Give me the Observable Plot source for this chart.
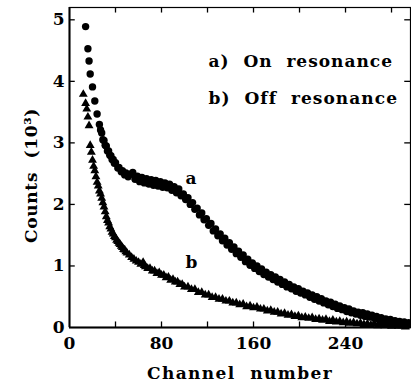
<!DOCTYPE html>
<html><head><meta charset="utf-8">
<script src="https://cdn.jsdelivr.net/npm/d3@7"></script>
<script src="https://cdn.jsdelivr.net/npm/@observablehq/plot@0.6"></script>
<style>body{margin:0;background:#fff} svg{display:block}</style>
</head><body><div id="chart"></div>
<script>
// a) On resonance (circles)
const chA = [14,16,17,18,20,22,24,26,27,28,29,30,31,32,33,34,35,36,37,38,39,40,42,43,45,46,48,49,51,53,55,57,59,61,63,65,67,69,71,73,75,77,79,81,83,85,87,89,91,93,95,97,99,101,103,105,107,109,111,113,115,117,119,121,123,125,127,129,131,133,135,137,139,141,143,145,147,149,151,153,155,157,159,161,163,165,167,169,171,173,175,177,179,181,183,185,187,189,191,193,195,197,199,201,203,205,207,209,211,213,215,217,219,221,223,225,227,229,231,233,235,237,239,241,243,245,247,249,251,253,255,257,259,261,263,265,267,269,271,273,275,277,279,281,283,285,287,289,291,293,295];
const cntA = [4.89,4.53,4.33,4.12,3.91,3.68,3.47,3.30,3.21,3.16,3.05,3.04,2.96,2.95,2.87,2.87,2.80,2.79,2.73,2.73,2.67,2.68,2.59,2.60,2.53,2.55,2.48,2.51,2.45,2.49,2.52,2.41,2.46,2.37,2.44,2.35,2.42,2.33,2.40,2.31,2.39,2.30,2.37,2.28,2.35,2.27,2.33,2.23,2.29,2.19,2.25,2.14,2.17,2.08,2.11,2.00,2.03,1.92,1.94,1.83,1.86,1.75,1.77,1.66,1.69,1.57,1.60,1.49,1.52,1.41,1.45,1.34,1.38,1.27,1.31,1.20,1.24,1.14,1.18,1.07,1.11,1.01,1.05,0.96,1.00,0.91,0.95,0.86,0.90,0.82,0.86,0.78,0.82,0.74,0.78,0.70,0.74,0.66,0.70,0.63,0.66,0.59,0.63,0.56,0.59,0.53,0.56,0.49,0.53,0.46,0.50,0.43,0.47,0.40,0.43,0.37,0.41,0.34,0.38,0.31,0.35,0.29,0.32,0.26,0.30,0.24,0.27,0.22,0.25,0.20,0.24,0.18,0.22,0.17,0.20,0.15,0.18,0.13,0.16,0.12,0.14,0.10,0.13,0.09,0.11,0.08,0.10,0.07,0.09,0.06,0.08];
// b) Off resonance (triangles)
const chB = [12,14,15,16,17,18,19,20,21,22,23,24,25,26,27,28,29,30,31,32,33,34,35,36,37,38,39,40,41,42,43,44,45,46,47,48,49,50,52,54,56,58,60,62,64,65,66,68,70,72,74,76,78,80,82,84,86,88,90,92,94,96,98,100,103,106,109,112,115,118,121,124,127,130,133,136,139,142,145,148,151,154,157,160,163,166,169,172,175,178,181,184,187,190,193,196,199,202,205,208,211,214,217,220,223,226,229,232,235,238,241,244,247,250,253,256,259,262,265,268,271,274,277,280,283,286,289,292,295];
const cntB = [3.79,3.64,3.55,3.42,3.28,2.96,2.85,2.72,2.62,2.55,2.45,2.36,2.30,2.22,2.17,2.10,2.03,1.96,1.88,1.80,1.74,1.70,1.64,1.60,1.55,1.52,1.48,1.46,1.42,1.40,1.37,1.35,1.32,1.30,1.27,1.26,1.23,1.21,1.18,1.14,1.11,1.08,1.06,1.03,1.06,1.01,0.99,0.96,0.96,0.92,0.92,0.88,0.89,0.85,0.85,0.81,0.82,0.77,0.78,0.74,0.74,0.70,0.70,0.66,0.66,0.62,0.62,0.57,0.57,0.53,0.53,0.49,0.49,0.46,0.46,0.43,0.43,0.40,0.40,0.37,0.38,0.34,0.35,0.32,0.33,0.30,0.30,0.27,0.28,0.25,0.25,0.22,0.23,0.20,0.21,0.18,0.19,0.16,0.17,0.15,0.16,0.13,0.14,0.12,0.13,0.10,0.12,0.09,0.10,0.08,0.09,0.07,0.08,0.06,0.07,0.05,0.06,0.04,0.06,0.03,0.05,0.03,0.04,0.02,0.04,0.02,0.03,0.01,0.03];

const xLabels = [0, 80, 160, 240];
const xTicks = [40, 80, 120, 160, 200, 240, 280];
const yTicks = [1, 2, 3, 4, 5];
const yLabels = [0, 1, 2, 3, 4, 5];
const legendA = "a)  On  resonance";
const legendB = "b)  Off  resonance";
const xTitle = "Channel  number";
const yTitle = "Counts  (10³)";

const onRes = chA.map((c, i) => ({channel: c, counts: cntA[i]}));
const offRes = chB.map((c, i) => ({channel: c, counts: cntB[i]}));

const X0 = 0, X1 = 296.5, Y0 = 0, Y1 = 5.2;
const font = {fontFamily: "DejaVu Serif", fontWeight: "bold"};

const chart = Plot.plot({
  width: 411, height: 383,
  marginLeft: 69, marginRight: 1, marginTop: 7, marginBottom: 56,
  x: {domain: [X0, X1]},
  y: {domain: [Y0, Y1]},
  style: {fontFamily: "DejaVu Serif", fontWeight: "bold", fontSize: "17px", background: "#fff", color: "#000", overflow: "visible"},
  marks: [
    Plot.axisX({ticks: xLabels, tickSize: 0, tickPadding: 9, tickFormat: "d", label: null, fontSize: 17}),
    Plot.axisY({ticks: yLabels, tickSize: 0, tickPadding: 5, tickFormat: "d", label: null, fontSize: 17}),
    Plot.frame({stroke: "#000", strokeWidth: 1.2}),
    Plot.ruleX([X0], {stroke: "#000", strokeWidth: 2}),
    Plot.ruleY([Y0], {stroke: "#000", strokeWidth: 2}),
    Plot.ruleX(xTicks, {y1: Y0, y2: Y0 + 0.09, stroke: "#000", strokeWidth: 1.3}),
    Plot.ruleX(xTicks, {y1: Y1, y2: Y1 - 0.09, stroke: "#000", strokeWidth: 1.3}),
    Plot.ruleY(yTicks, {x1: X0, x2: X0 + 5, stroke: "#000", strokeWidth: 1.3}),
    Plot.ruleY(yTicks, {x1: X1, x2: X1 - 5, stroke: "#000", strokeWidth: 1.3}),
    Plot.dot(offRes, {x: "channel", y: "counts", symbol: "triangle", r: 3.3, fill: "#000", stroke: "none"}),
    Plot.dot(onRes, {x: "channel", y: "counts", r: 3.7, fill: "#000", stroke: "none"}),
    Plot.text([legendA], {frameAnchor: "top-left", textAnchor: "start", lineAnchor: "top", dx: 139, dy: 47, fontSize: 17, ...font}),
    Plot.text([legendB], {frameAnchor: "top-left", textAnchor: "start", lineAnchor: "top", dx: 139, dy: 84, fontSize: 17, ...font}),
    Plot.text(["a"], {frameAnchor: "top-left", textAnchor: "middle", lineAnchor: "middle", dx: 121.5, dy: 170.6, fontSize: 17, ...font}),
    Plot.text(["b"], {frameAnchor: "top-left", textAnchor: "middle", lineAnchor: "middle", dx: 122, dy: 254.6, fontSize: 17, ...font}),
    Plot.text([xTitle], {frameAnchor: "bottom", textAnchor: "middle", lineAnchor: "middle", dy: 46, fontSize: 17, ...font}),
    Plot.text([yTitle], {frameAnchor: "left", textAnchor: "middle", lineAnchor: "middle", rotate: -90, dx: -38, dy: 8, fontSize: 17, ...font})
  ]
});
const spacing = new Map([[legendA, "1px"], [legendB, "1.05px"], [xTitle, "1.4px"], [yTitle, "0.7px"]]);
d3.select(chart).selectAll("text").each(function () {
  const t = this.textContent;
  if (spacing.has(t)) this.style.letterSpacing = spacing.get(t);
});
document.getElementById("chart").appendChild(chart);
</script>
</body></html>
